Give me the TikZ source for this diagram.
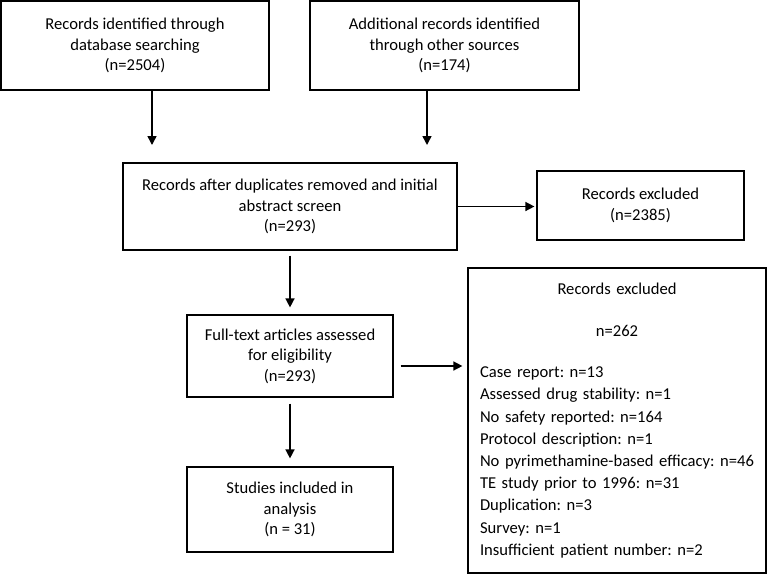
\documentclass[tikz,border=0pt]{standalone}
\usepackage{fontspec}
\setmainfont{Carlito}
\usepackage{tikz}
\usetikzlibrary{arrows.meta}
\usetikzlibrary{calc}
\frenchspacing
\tikzstyle{Box}=[draw=black,line width=1.2pt,align=center,inner sep=0pt,
font=\fontsize{16.6}{20.5}\selectfont]
\tikzstyle{Edge}=[draw=black,line width=1.5pt,-{Triangle[length=9pt,width=9pt]}]
\tikzstyle{List}=[font=\fontsize{16.6}{22.2}\selectfont]

\begin{document}
\begin{tikzpicture}[x=1pt,y=-1pt]
        \useasboundingbox(0,0)rectangle(767,576);
        \node[Box,minimum width=268pt,minimum height=89pt](1)at(135,45.5){Records identified through\\database searching\\(n=2504)};
        \node[Box,minimum width=269pt,minimum height=89pt](2)at(444.5,45.5){Additional records identified\\through other sources\\(n=174)};
        \node[Box,minimum width=334pt,minimum height=87pt](3)at(290,206.5){Records after duplicates removed and initial\\abstract screen\\(n=293)};
        \node[Box,minimum width=207pt,minimum height=69pt](4)at(640.5,205.5){Records excluded\\(n=2385)};
        \node[Box,minimum width=206pt,minimum height=82pt](5)at(290,356){Full-text articles assessed\\for eligibility\\(n=293)};
        \node[Box,List,minimum width=298pt,minimum height=305pt,text width=274pt,align=left](6)at(617,420.5){{\centering Records excluded\\[19.8pt]n=262\par}\vspace{18.8pt}Case report: n=13\\Assessed drug stability: n=1\\No safety reported: n=164\\Protocol description: n=1\\\mbox{No pyrimethamine-based efficacy: n=46}\\TE study prior to 1996: n=31\\Duplication: n=3\\Survey: n=1\\Insufficient patient number: n=2\par\vspace{-9pt}};
        \node[Box,minimum width=206pt,minimum height=85pt](7)at(290,509.5){Studies included in\\analysis\\(n = 31)};
        \coordinate(a)at(152,145);
        \coordinate(b)at(427,145);
        \coordinate(m)at(0,366);
        \draw[Edge](1.south-|a)--(a);
        \draw[Edge](2.south-|b)--(b);
        \draw[Edge,shorten >=2pt](3.east)--(3.east-|4.west);
        \draw[Edge,shorten <=5pt,shorten >=7pt](3)--(5);
        \draw[Edge,shorten <=6pt,shorten >=8pt](5)--(7);
        \draw[Edge]($(5.east|-m)+(7,0)$)--($(6.west|-m)+(-5,0)$);
    \end{tikzpicture}
\end{document}
